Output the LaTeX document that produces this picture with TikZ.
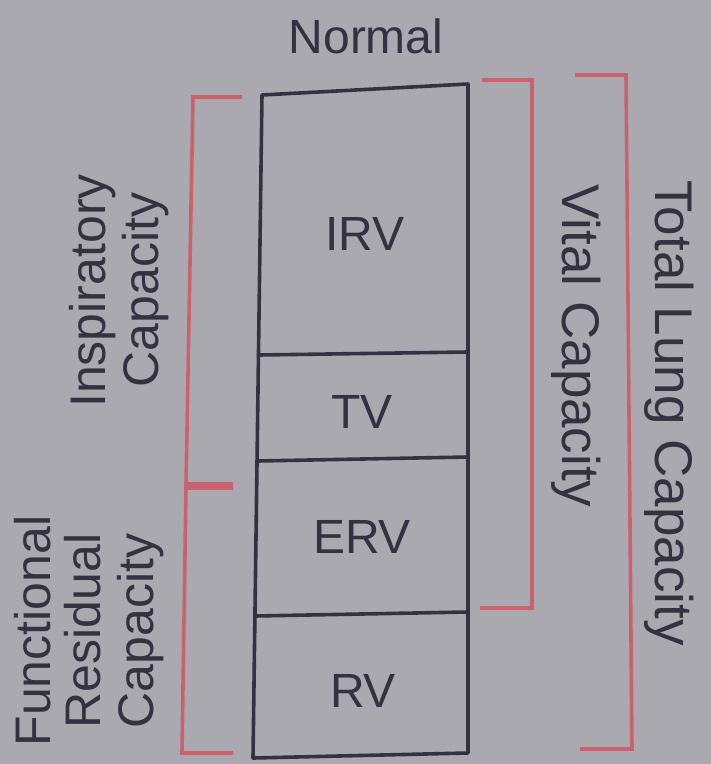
\documentclass[tikz,border=0pt]{standalone}
\usepackage{fontspec}
\setmainfont{Liberation Sans}
\definecolor{bgc}{RGB}{170,169,175}
\definecolor{redc}{RGB}{200,98,108}
\definecolor{inkc}{RGB}{52,50,64}
\begin{document}
\begin{tikzpicture}[x=1pt,y=-1pt,
  boxline/.style={draw=inkc,line width=3.6pt,line cap=round,line join=round},
  brline/.style={draw=redc,line width=3.6pt,line join=miter},
  lbl/.style={text=inkc,inner sep=0pt,font=\fontsize{48}{52}\selectfont},
  lftlbl/.style={text=inkc,inner sep=0pt,font=\fontsize{50}{54}\selectfont,rotate=90,anchor=base},
  rgtlbl/.style={text=inkc,inner sep=0pt,font=\fontsize{53}{56}\selectfont,rotate=-90,anchor=base}]
\fill[bgc] (0,0) rectangle (711,764);
\useasboundingbox (0,0) rectangle (711,764);
% box corners
\coordinate (tl) at (262,95);
\coordinate (tr) at (468,84);
\coordinate (bl) at (253,758);
\coordinate (br) at (468,753);
\coordinate (d1l) at (258.4,355);
\coordinate (d1r) at (468,352);
\coordinate (d2l) at (257,461);
\coordinate (d2r) at (468,457);
\coordinate (d3l) at (255,616);
\coordinate (d3r) at (468,612);
\draw[boxline] (tl) -- (tr) -- (br) -- (bl) -- cycle;
\draw[boxline] (d1l) -- (d1r);
\draw[boxline] (d2l) -- (d2r);
\draw[boxline] (d3l) -- (d3r);
% box labels
\node[lbl,anchor=base] (normal) at (366,53) {Normal};
\node[lbl,anchor=base] (irv) at (365,250) {IRV};
\node[lbl,anchor=base] (tv) at (362,428) {TV};
\node[lbl,anchor=base] (erv) at (362,553) {ERV};
\node[lbl,anchor=base] (rv) at (363,707) {RV};
% left brackets
\draw[brline] (242,97) -- (193,97) -- (186,484) -- (233,484);
\draw[brline] (233,488) -- (186,488) -- (182,753) -- (233,753);
% right brackets
\draw[brline] (482,80) -- (532,80) -- (532,608) -- (480,608);
\draw[brline] (575,75) -- (626,75) -- (632,749) -- (580,749);
% left labels
\node[lftlbl] (insp1) at (105,291) {Inspiratory};
\node[lftlbl] (insp2) at (158,290) {Capacity};
\node[lftlbl] (frc1) at (50,631) {Functional};
\node[lftlbl] (frc2) at (100,631) {Residual};
\node[lftlbl] (frc3) at (153,631) {Capacity};
% right labels
\node[rgtlbl] (vc) at (562,346) {Vital Capacity};
\node[rgtlbl] (tlc) at (655,413) {Total Lung Capacity};
\end{tikzpicture}
\end{document}
